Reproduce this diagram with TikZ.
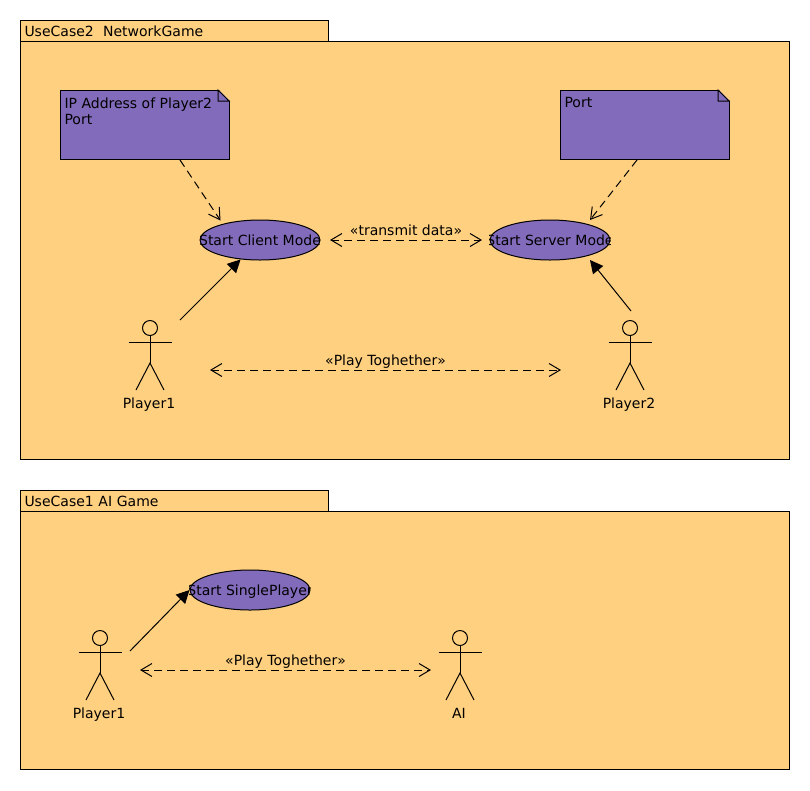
\documentclass[tikz,border=0pt]{standalone}
\usepackage{fontspec}
\setmainfont{DejaVu Sans}
\usetikzlibrary{arrows.meta,shapes.geometric}

\definecolor{packagefill}{RGB}{255,208,128}
\definecolor{usecasefill}{RGB}{130,107,187}

\tikzset{
    packagebody/.style={draw, fill=packagefill, anchor=north west, inner sep=0pt},
    packagetab/.style={draw, fill=packagefill, anchor=north west, inner sep=4pt, minimum height=21pt, text width=300pt, align=left},
    notebox/.style={draw, fill=usecasefill, anchor=north west, inner xsep=4pt, inner ysep=7pt},
    usecase/.style={draw, ellipse, fill=usecasefill, minimum width=120pt, minimum height=40pt, inner sep=0pt, text height=10pt, text depth=0pt},
    actorlabel/.style={anchor=base, inner sep=0pt},
    linklabel/.style={midway, above, inner sep=1pt, text height=11pt, text depth=3pt},
    dep/.style={dashed, dash pattern=on 8pt off 5pt, -{Straight Barb[length=11pt,width=13pt]}},
    both/.style={dashed, dash pattern=on 8pt off 5pt, {Straight Barb[length=11pt,width=13pt]}-{Straight Barb[length=11pt,width=13pt]}},
    assoc/.style={-{Triangle[length=13pt,width=13pt]}},
    actor/.pic={
        \draw (0,0) circle (7.5);
        \draw (0,7.5) -- (0,35) (-21.5,14) -- (21.5,14);
        \draw (-14,62) -- (0,35) -- (14,62);
    }
}

\begin{document}
\begin{tikzpicture}[x=1pt,y=-1pt,line width=1pt,font=\fontsize{14}{16}\selectfont]

            \useasboundingbox (0,0) rectangle (810,790);

            % network game package

            \node [packagebody, minimum width=769pt, minimum height=418pt] (netbody) at (20,41) {};
            \node [packagetab] (nettab) at (20,20) {UseCase2\ \ NetworkGame};

            % notes

            \node [notebox] (noteclient) at (60,90) {\parbox[c][55pt][t]{161pt}{IP Address of Player2\\Port}};
            \fill[packagefill] (218,89) -- (230,89) -- (230,101) -- cycle;
            \draw (218,90) -- (229,101) -- (218,101) -- cycle;

            \node [notebox] (noteserver) at (560,90) {\parbox[c][55pt][t]{161pt}{Port}};
            \fill[packagefill] (718,89) -- (730,89) -- (730,101) -- cycle;
            \draw (718,90) -- (729,101) -- (718,101) -- cycle;

            % use cases

            \begin{scope}
                \clip (199.5,219.5) rectangle (320.5,260.5);
                \node [usecase] (startclient) at (260,240) {\makebox[0pt]{Start Client Mode}};
            \end{scope}
            \begin{scope}
                \clip (489.5,219.5) rectangle (610.5,260.5);
                \node [usecase] (startserver) at (550,240) {\makebox[0pt]{Start Server Mode}};
            \end{scope}

            % actors

            \pic at (150,328) {actor};
            \node [actorlabel] (playerone) at (149,408) {Player1};
            \pic at (630,328) {actor};
            \node [actorlabel] (playertwo) at (629,408) {Player2};

            % connector ends

            \coordinate (clientfrom) at (180,160);
            \coordinate (clientto) at (220.5,220.5);
            \coordinate (serverfrom) at (637,160);
            \coordinate (serverto) at (590,220);
            \coordinate (transmitleft) at (330,240);
            \coordinate (transmitright) at (482,240);
            \coordinate (oneactor) at (180,320);
            \coordinate (twoactor) at (631,311);
            \coordinate (twocase) at (590,260);
            \coordinate (playleft) at (210,370);
            \coordinate (playright) at (561,370);

            \draw[dep] (clientfrom) -- (clientto);
            \draw[dep] (serverfrom) -- (serverto);
            \draw[both] (transmitleft) -- (transmitright) node [linklabel] (transmitlabel) {«transmit data»};
            \draw[assoc] (oneactor) -- (startclient.225);
            \draw[assoc] (twoactor) -- (twocase);
            \draw[both] (playleft) -- (playright) node [linklabel] (playlabel) {«Play Toghether»};

            % ai game package

            \node [packagebody, minimum width=769pt, minimum height=258pt] (aibody) at (20,511) {};
            \node [packagetab] (aitab) at (20,490) {UseCase1 AI Game};

            \begin{scope}
                \clip (189.5,569.5) rectangle (310.5,610.5);
                \node [usecase] (startsingle) at (250,590) {\makebox[0pt]{Start SinglePlayer}};
            \end{scope}

            \pic at (100,638) {actor};
            \node [actorlabel] (playerai) at (99,718) {Player1};
            \pic at (460,638) {actor};
            \node [actorlabel] (ai) at (459,718) {AI};

            \coordinate (aiactor) at (130,651);
            \coordinate (aileft) at (140,670);
            \coordinate (airight) at (431,670);

            \draw[assoc] (aiactor) -- (startsingle.west);
            \draw[both] (aileft) -- (airight) node [linklabel] (ailabel) {«Play Toghether»};

        \end{tikzpicture}
\end{document}
